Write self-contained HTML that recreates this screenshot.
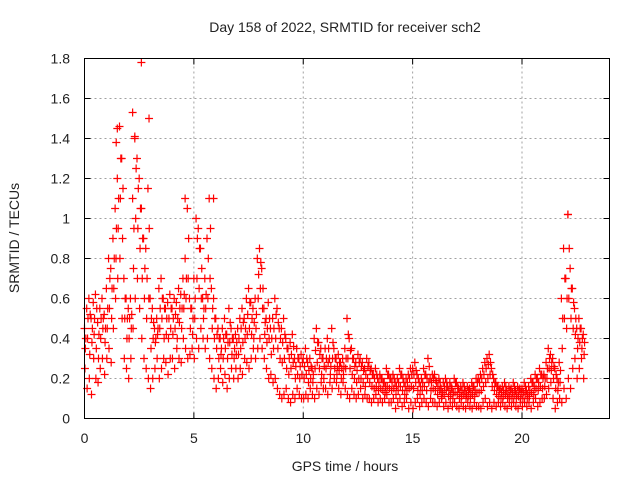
<!DOCTYPE html>
<html><head><meta charset="utf-8">
<style>
html,body{margin:0;padding:0;background:#fff;}
svg{display:block;font-family:"Liberation Sans",sans-serif;}
</style></head>
<body>
<svg id="chart" width="640" height="480" viewBox="0 0 640 480" xmlns="http://www.w3.org/2000/svg">
<rect width="640" height="480" fill="#fff"/>
<text x="345" y="32" text-anchor="middle" font-size="14" fill="#222">Day 158 of 2022, SRMTID for receiver sch2</text>
<text x="345" y="471" text-anchor="middle" font-size="14" fill="#222">GPS time / hours</text>
<text transform="translate(19,238) rotate(-90)" text-anchor="middle" font-size="14" fill="#222">SRMTID / TECUs</text>
<g id="grid"></g>
<g id="ticks"></g>
<g id="points"></g>
<rect x="84.5" y="58.5" width="525" height="360" fill="none" stroke="#000" stroke-width="1"/>
</svg>
<script>
const xTicks=[0,5,10,15,20];
const yTicks=[0,0.2,0.4,0.6,0.8,1.0,1.2,1.4,1.6,1.8];
const yTickLabels=["0","0.2","0.4","0.6","0.8","1","1.2","1.4","1.6","1.8"];
const tStart=0, tStep=0.1, nTimes=229;
const times=[];
for(let i=0;i<nTimes;i++) times.push(+(tStart+i*tStep).toFixed(2));
const tecHigh=[
.45,.55,.6,.5,.58,.62,.48,.55,.6,.52,
.65,.8,.75,.9,1.05,1.2,1.46,1.3,.7,.6,
.55,.6,1.1,1.4,1.3,1.2,1.05,.9,.85,1.15,
.6,.55,.45,.5,.65,.7,.6,.55,.58,.62,
.55,.6,.58,.65,.62,.7,.8,1.05,.6,.55,
.7,1.0,.95,.85,.6,.7,.9,1.1,.65,.6,
.5,.45,.4,.45,.5,.42,.55,.45,.4,.42,
.45,.5,.55,.5,.6,.65,.58,.55,.6,.8,
.85,.75,.55,.5,.58,.45,.5,.6,.55,.45,
.45,.5,.4,.35,.38,.42,.3,.35,.3,.32,
.3,.35,.28,.3,.25,.4,.45,.38,.35,.3,
.35,.4,.3,.45,.35,.3,.32,.28,.3,.35,
.5,.4,.35,.3,.28,.32,.3,.28,.25,.3,
.28,.25,.22,.25,.2,.22,.2,.18,.25,.22,
.2,.22,.18,.2,.25,.22,.18,.2,.22,.25,
.25,.28,.22,.18,.2,.25,.22,.3,.2,.22,
.22,.18,.2,.15,.18,.2,.16,.18,.15,.2,
.18,.15,.16,.18,.14,.16,.15,.18,.16,.2,
.2,.22,.25,.28,.3,.32,.25,.2,.18,.16,
.15,.16,.18,.14,.16,.15,.18,.14,.16,.15,
.15,.18,.14,.16,.2,.18,.22,.2,.25,.22,
.22,.28,.35,.32,.3,.25,.2,.28,.6,.85,
.7,1.02,.75,.65,.55,.45,.5,.45,.42];
const tecUpper=[
.4,.5,.52,.45,.5,.55,.42,.5,.5,.45,
.55,.7,.65,.8,.95,1.1,1.3,1.15,.6,.5,
.5,.52,.95,1.25,1.15,1.05,.9,.75,.7,.95,
.5,.48,.4,.45,.55,.6,.55,.5,.5,.55,
.5,.52,.5,.55,.55,.62,.7,.9,.55,.5,
.6,.9,.85,.75,.55,.62,.8,.95,.55,.5,
.42,.4,.35,.4,.42,.38,.48,.4,.35,.38,
.4,.45,.48,.45,.52,.58,.5,.48,.52,.72,
.78,.65,.48,.45,.5,.4,.45,.52,.48,.4,
.38,.42,.35,.3,.32,.36,.26,.3,.26,.28,
.26,.3,.24,.26,.22,.34,.38,.32,.3,.26,
.3,.35,.26,.38,.3,.26,.28,.25,.26,.3,
.42,.34,.3,.26,.24,.28,.26,.24,.22,.26,
.24,.22,.2,.22,.18,.2,.18,.16,.22,.2,
.18,.2,.16,.18,.22,.2,.16,.18,.2,.22,
.22,.24,.2,.16,.18,.22,.2,.26,.18,.2,
.19,.16,.18,.13,.16,.18,.14,.16,.13,.18,
.16,.13,.14,.16,.12,.14,.13,.16,.14,.18,
.18,.2,.22,.25,.27,.28,.22,.18,.16,.14,
.13,.14,.16,.12,.14,.13,.16,.12,.14,.13,
.13,.16,.12,.14,.18,.16,.2,.18,.22,.2,
.2,.25,.3,.28,.26,.22,.18,.24,.5,.7,
.6,.85,.65,.58,.5,.4,.45,.4,.38];
const tecMid=[
.35,.4,.32,.38,.42,.35,.3,.4,.45,.38,
.45,.55,.5,.65,.8,.95,1.1,.9,.5,.4,
.4,.45,.75,1.0,.95,.85,.7,.6,.5,.6,
.35,.4,.38,.42,.45,.5,.4,.42,.4,.45,
.42,.45,.4,.48,.45,.55,.6,.7,.45,.42,
.5,.7,.65,.6,.5,.55,.6,.7,.45,.4,
.35,.3,.32,.3,.35,.3,.38,.32,.3,.32,
.32,.35,.38,.4,.42,.45,.42,.4,.45,.6,
.65,.55,.42,.38,.4,.32,.35,.4,.35,.3,
.28,.3,.25,.22,.25,.28,.2,.22,.2,.22,
.2,.22,.18,.2,.18,.25,.28,.25,.22,.2,
.25,.28,.22,.3,.25,.22,.24,.2,.22,.25,
.3,.25,.22,.2,.18,.2,.2,.18,.16,.2,
.18,.16,.15,.16,.14,.15,.14,.13,.16,.15,
.14,.15,.12,.14,.16,.14,.12,.14,.15,.16,
.15,.18,.14,.12,.14,.16,.14,.18,.14,.15,
.14,.12,.14,.11,.12,.14,.11,.12,.1,.13,
.12,.1,.11,.12,.1,.11,.1,.12,.11,.13,
.13,.14,.16,.18,.2,.22,.16,.14,.12,.11,
.1,.11,.12,.1,.11,.1,.12,.1,.11,.1,
.1,.12,.1,.11,.13,.12,.15,.14,.16,.15,
.16,.2,.25,.24,.2,.15,.14,.18,.35,.5,
.45,.6,.5,.45,.42,.35,.38,.35,.32];
const tecLow=[
.25,.15,.2,.12,.3,.2,.18,.25,.3,.22,
.3,.35,.28,.45,.6,.7,.8,.5,.3,.25,
.2,.3,.45,.6,.7,.55,.4,.3,.25,.2,
.15,.2,.25,.3,.2,.25,.3,.28,.22,.3,
.3,.25,.35,.3,.28,.4,.35,.3,.32,.35,
.3,.4,.35,.45,.4,.35,.4,.3,.25,.2,
.15,.2,.25,.18,.22,.15,.2,.25,.2,.25,
.2,.25,.22,.3,.28,.25,.3,.35,.3,.35,
.4,.35,.3,.25,.2,.22,.18,.2,.15,.12,
.1,.12,.15,.1,.08,.12,.1,.15,.12,.1,
.1,.12,.1,.15,.12,.1,.15,.12,.18,.15,
.15,.12,.18,.15,.2,.18,.15,.12,.18,.15,
.12,.1,.15,.12,.1,.12,.15,.1,.12,.1,
.1,.08,.1,.12,.08,.1,.08,.1,.12,.08,
.08,.1,.05,.08,.1,.06,.08,.1,.05,.08,
.05,.08,.1,.06,.08,.1,.08,.06,.1,.08,
.08,.06,.08,.1,.06,.08,.05,.08,.06,.08,
.06,.05,.08,.06,.05,.08,.06,.05,.08,.06,
.06,.05,.08,.1,.06,.08,.05,.08,.06,.08,
.06,.08,.06,.05,.08,.06,.08,.06,.05,.08,
.06,.08,.06,.08,.05,.08,.1,.06,.08,.1,
.1,.12,.15,.18,.1,.05,.08,.1,.08,.15,
.1,.2,.15,.25,.3,.2,.25,.3,.2];
const outlierTimes=[2.6,2.95,2.2,1.5,4.6,5.9,22.1,2.3,1.45];
const outlierValues=[1.78,1.5,1.53,1.45,1.1,1.1,1.02,1.41,1.38];

const X0=84.5,X1=609.5,Y0=418.5,Y1=58.5,XMAX=24,YMAX=1.8;
const xs=v=>X0+(v/XMAX)*(X1-X0);
const ys=v=>Y0-(v/YMAX)*(Y0-Y1);
const NS="http://www.w3.org/2000/svg";
function mk(tag,attrs,parent){const e=document.createElementNS(NS,tag);for(const k in attrs)e.setAttribute(k,attrs[k]);parent.appendChild(e);return e;}
const grid=document.getElementById('grid'),ticks=document.getElementById('ticks'),pts=document.getElementById('points');
xTicks.forEach(t=>{
  const x=xs(t);
  if(t>0){const g=mk('line',{x1:x,x2:x,y1:Y0,y2:Y1,stroke:'#a0a0a0','stroke-dasharray':'2,3'},grid);
  
  }
  mk('line',{x1:x,x2:x,y1:Y0,y2:Y0-6,stroke:'#000'},ticks);
  mk('line',{x1:x,x2:x,y1:Y1,y2:Y1+6,stroke:'#000'},ticks);
  const l=mk('text',{x:x,y:443,'text-anchor':'middle','font-size':14,fill:'#222'},ticks);
  l.textContent=String(t);
  
  
});
yTicks.forEach((t,i)=>{
  const y=ys(t);
  if(i>0&&i<yTicks.length-1){const g=mk('line',{x1:X0,x2:X1,y1:y,y2:y,stroke:'#a0a0a0','stroke-dasharray':'2,3'},grid);
  
  }
  mk('line',{x1:X0,x2:X0+6,y1:y,y2:y,stroke:'#000'},ticks);
  mk('line',{x1:X1,x2:X1-6,y1:y,y2:y,stroke:'#000'},ticks);
  const l=mk('text',{x:70,y:y+5,'text-anchor':'end','font-size':14,fill:'#222'},ticks);
  l.textContent=yTickLabels[i];
  
  
});
function plus(t,v){
  const x=xs(t),y=ys(v);
  const p=mk('path',{d:`M${x-4} ${y}H${x+4}M${x} ${y-4}V${y+4}`,stroke:'#ff0000','stroke-width':1.2,fill:'none'},pts);
  
  
}
times.forEach((t,i)=>{plus(t,tecHigh[i]);plus(t+0.06,tecUpper[i]);plus(t+0.04,tecMid[i]);plus(t+0.02,tecLow[i]);});
outlierTimes.forEach((t,i)=>plus(t,outlierValues[i]));
</script>
</body></html>
